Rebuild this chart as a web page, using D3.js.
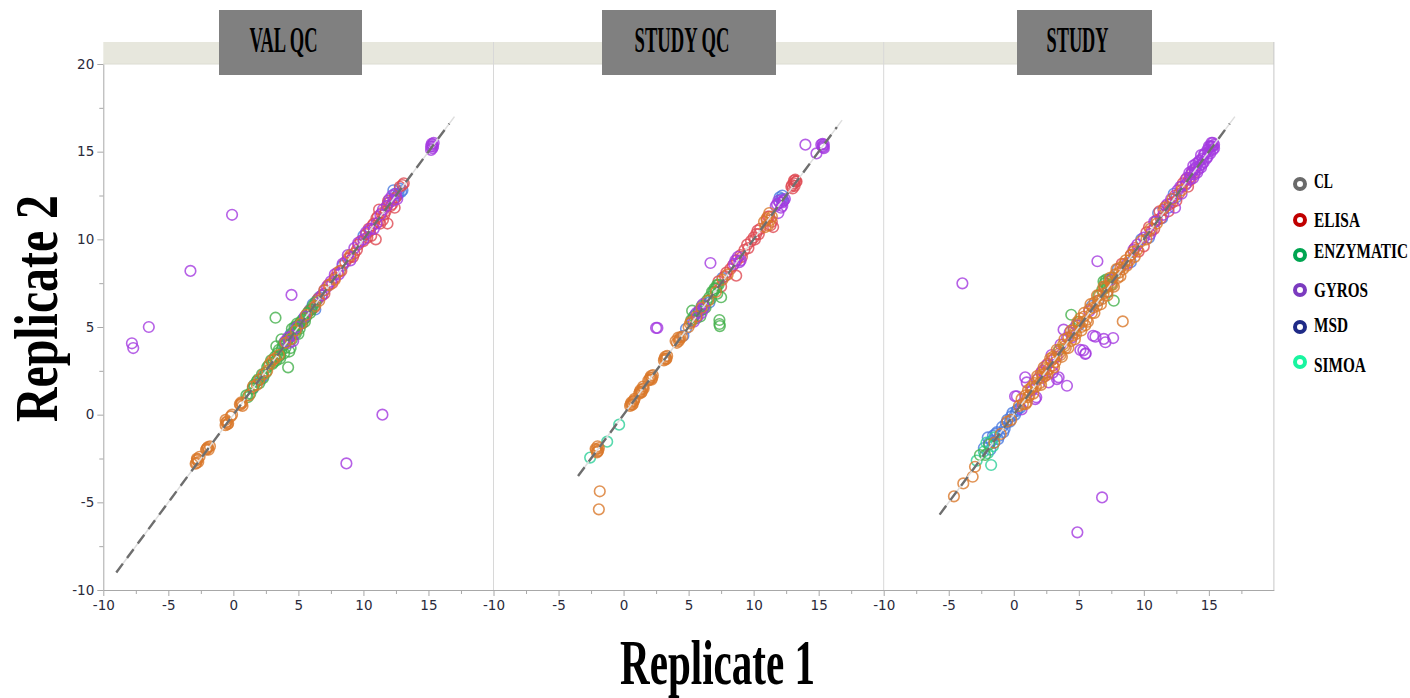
<!DOCTYPE html>
<html><head><meta charset="utf-8">
<script src="https://cdn.jsdelivr.net/npm/d3@7"></script>
<style>body{margin:0;background:#fff;} svg{display:block;}</style>
</head><body><svg id="c" width="1410" height="698"></svg>
<script>
// ---------------- DATA ----------------
const panels = ["VAL QC", "STUDY QC", "STUDY"];
const categories = ["CL", "ELISA", "ENZYMATIC", "GYROS", "MSD", "SIMOA"];
const xTickLabels = [-10, -5, 0, 5, 10, 15];
const yTickLabels = [-10, -5, 0, 5, 10, 15, 20];
const identityStart = [-9.0, -3.5, -5.7];
const identityEnd = [16.6, 16.4, 16.6];

// [Replicate 1, Replicate 2] pairs, per panel, per category
const valQC = {
  CL: [[-2.9,-2.8],[-2.8,-2.6],[-2.7,-2.7],[-2.8,-2.5],[-2.6,-2.4],[-2.0,-1.9],[-1.9,-2.0],[-2.1,-2.0],[-1.8,-1.8],[-0.6,-0.6],[-0.5,-0.4],[-0.4,-0.5],[-0.6,-0.3],[-0.2,-0.1],[-0.1,0.0],[0.5,0.6],[0.6,0.7],[0.7,0.5],[1.2,1.1],[1.5,1.6],[2.0,2.0],[2.6,2.5],[3.0,3.1],[3.5,3.4],[4.0,4.1],[4.8,4.8],[5.6,5.7],[6.3,6.2],[7.0,7.1],[7.8,7.7],
       [-2.85,-2.75],[-2.75,-2.55],[-1.95,-1.85],[-2.05,-1.95],[-0.55,-0.45],[-0.45,-0.55],[0.55,0.55],[0.65,0.65],[2.3,2.3],[3.2,3.2],[4.4,4.3],[5.2,5.2],[6.6,6.5],[7.4,7.4],[8.2,8.2],[9.0,9.1],[1.8,1.7],[2.8,2.9]],
  ELISA: [[5.0,5.1],[5.3,5.2],[5.8,5.9],[6.2,6.1],[6.5,6.6],[7.0,6.9],[7.3,7.4],[7.8,7.8],[8.0,8.1],[8.3,8.2],[8.6,8.7],[9.0,9.0],[9.3,9.2],[9.6,9.7],[10.0,9.9],[10.2,10.3],[10.5,10.5],[10.8,10.9],[11.0,11.2],[11.2,11.0],[11.4,11.5],[11.6,11.4],[11.8,11.9],[12.0,12.1],[12.2,12.0],[12.4,12.3],[10.95,10.0],[11.85,10.9],[12.4,11.8],[11.2,11.7],[13.1,13.2],[13.0,13.1],[11.5,11.1],[10.6,10.2],
       [5.5,5.5],[6.0,6.0],[6.8,6.8],[7.6,7.5],[8.8,8.9],[9.5,9.4],[9.8,9.9],[10.3,10.1],[10.7,10.8],[11.1,11.3],[11.3,10.9],[11.7,11.6],[12.1,11.9],[12.5,12.4],[12.8,13.0],[9.2,9.0],[10.4,10.6],[11.9,12.2]],
  ENZYMATIC: [[1.0,1.1],[1.3,1.2],[1.6,1.7],[1.8,1.9],[2.0,1.8],[2.2,2.3],[2.5,2.4],[2.7,2.8],[3.0,2.9],[3.2,3.3],[3.4,3.5],[3.6,3.4],[3.8,3.9],[4.0,3.8],[4.2,4.3],[4.4,4.5],[4.6,4.7],[4.8,4.6],[5.0,5.1],[5.2,5.3],[5.4,5.4],[5.7,5.8],[6.0,6.0],[6.3,6.4],[3.7,4.3],[3.5,3.7],[4.5,4.9],[4.9,5.2],[4.3,3.6],[3.9,3.5],[3.24,5.53],[4.21,2.7],[4.7,5.0],[5.1,4.9],[3.3,3.9],
       [1.1,1.0],[1.5,1.5],[1.9,2.0],[2.3,2.1],[2.6,2.7],[2.9,3.1],[3.1,3.0],[3.3,3.1],[3.5,3.3],[3.7,3.7],[3.9,4.1],[4.1,4.2],[4.3,4.4],[4.5,4.3],[4.7,4.6],[4.9,4.9],[5.1,5.2],[5.3,5.4],[5.5,5.3],[5.6,5.6],[5.9,5.8],[6.1,6.2],[3.6,3.2],[4.4,3.8],[5.0,4.6]],
  GYROS: [[4.0,4.2],[4.3,4.1],[4.5,4.5],[5.5,5.6],[7.2,7.3],[7.5,7.6],[8.8,9.1],[9.0,8.8],[9.3,9.5],[10.5,10.6],[10.8,10.6],[11.5,11.7],[11.8,11.9],[12.0,12.3],[12.3,12.2],[12.5,12.6],[15.3,15.4],[15.2,15.3],[15.4,15.5],[15.3,15.2],[15.2,15.1],[-0.1,11.4],[-3.3,8.2],[-6.5,5.0],[-7.8,4.07],[-7.7,3.8],[4.47,6.83],[11.46,0.0],[8.69,-2.78],
       [4.2,4.4],[4.6,4.2],[4.9,5.0],[7.8,8.0],[8.1,8.0],[8.4,8.6],[9.6,9.8],[10.0,10.0],[10.2,10.4],[11.0,10.9],[11.3,11.4],[12.2,12.5],[12.6,12.3],[15.35,15.3],[15.25,15.45],[6.8,6.8],[7.0,7.1]],
  MSD: [[1.5,1.5],[2.3,2.2],[4.8,5.0],[5.9,6.0],[6.1,6.3],[6.3,6.0],[6.6,6.7],[8.4,8.5],[10.0,10.2],[11.9,12.1],[12.6,12.5],[12.8,12.9],[12.7,12.6],[12.3,12.8],
       [2.1,2.0],[3.9,4.0],[4.4,4.6],[5.4,5.5],[6.4,6.5],[12.4,12.6],[12.9,12.7],[13.0,12.8]],
  SIMOA: []
};
const studyQC = {
  CL: [[-2.1,-2.0],[-2.0,-2.1],[-1.9,-1.9],[-2.0,-1.8],[-1.83,-4.37],[-1.9,-5.4],[0.5,0.5],[0.6,0.7],[0.7,0.6],[0.8,0.8],[1.2,1.2],[1.3,1.4],[1.4,1.3],[1.5,1.6],[2.0,2.0],[2.1,2.2],[2.2,2.1],[3.1,3.1],[3.2,3.3],[3.3,3.2],[4.1,4.1],[4.3,4.3],[4.2,4.4],[5.0,5.0],[5.2,5.3],[6.0,6.1],[7.1,7.0],[8.0,8.0],[11.0,11.2],[11.3,11.1],[11.1,10.8],
       [-2.15,-1.95],[-1.95,-2.05],[-2.05,-2.15],[0.55,0.6],[0.65,0.55],[0.75,0.75],[0.85,0.9],[1.25,1.3],[1.35,1.25],[1.45,1.45],[1.55,1.5],[1.9,1.95],[2.05,2.1],[2.15,2.0],[2.25,2.25],[3.15,3.2],[3.25,3.15],[3.35,3.35],[4.0,4.2],[4.25,4.2],[4.35,4.4],[4.5,4.45],[5.1,5.2],[5.6,5.6],[6.5,6.5],[7.6,7.7],[10.8,11.0],[11.2,11.5],[11.4,11.3],[10.9,10.7]],
  ELISA: [[7.8,7.9],[8.2,8.3],[8.66,7.93],[9.0,9.1],[9.3,9.4],[9.6,9.5],[10.0,10.1],[10.2,10.3],[10.4,10.3],[11.0,11.1],[11.2,11.3],[11.4,11.0],[11.5,10.7],[12.9,13.0],[13.1,13.2],[13.2,13.4],[13.0,12.9],[13.3,13.3],[7.5,7.3],
       [8.4,8.5],[8.7,8.8],[9.1,9.0],[9.5,9.7],[9.8,9.9],[10.1,10.0],[10.5,10.6],[10.3,10.5],[11.1,11.3],[11.3,10.8],[12.95,13.1],[13.15,13.05],[13.25,13.3],[13.1,13.35],[7.3,7.6],[7.9,8.1]],
  ENZYMATIC: [[5.27,5.93],[5.6,5.5],[6.0,6.2],[6.3,6.1],[6.6,6.7],[6.9,7.0],[7.1,7.2],[7.3,7.4],[7.2,6.9],[7.37,5.17],[7.37,5.4],[7.4,5.05],[7.5,6.7],[5.9,5.6],
       [5.4,5.6],[5.8,5.9],[6.1,6.0],[6.4,6.5],[6.7,6.6],[7.0,7.2],[7.2,7.4],[6.8,7.0],[5.2,5.4]],
  GYROS: [[2.5,4.95],[2.6,4.95],[5.7,5.6],[5.9,6.0],[6.1,6.3],[8.5,8.6],[8.8,9.0],[9.0,8.8],[11.8,12.0],[12.0,12.1],[12.2,11.9],[12.3,12.2],[11.9,11.5],[6.68,8.65],[13.98,15.4],[14.83,14.9],[15.3,15.3],[15.4,15.4],[15.2,15.4],[15.4,15.2],
       [11.9,12.2],[12.1,11.8],[12.2,12.1],[11.7,11.9],[12.4,12.3],[5.6,5.8],[6.0,5.8],[8.6,8.8],[8.9,8.7],[15.3,15.45],[15.35,15.25],[6.2,6.1],[5.4,5.3]],
  MSD: [[4.6,4.5],[5.5,5.7],[5.8,5.9],[7.6,7.8],[12.2,12.3],[12.3,12.2],[12.0,12.4],
       [4.8,4.9],[5.3,5.4],[6.2,6.2],[6.6,6.4],[12.1,12.3],[12.2,12.5]],
  SIMOA: [[-2.57,-2.45],[-1.26,-1.54],[-0.34,-0.57]]
};
const study = {
  CL: [[-4.6,-4.66],[-3.88,-3.92],[-3.16,-3.54],[-2.98,-2.97],[8.38,5.32],[0.4,0.5],[0.7,0.6],[0.9,1.1],[1.2,1.1],[1.4,1.6],[1.7,1.6],[1.9,2.1],[2.2,2.1],[2.4,2.6],[2.7,2.6],[2.9,3.1],[3.2,3.0],[3.4,3.6],[3.6,3.4],[3.8,4.0],[4.0,3.8],[4.2,4.4],[4.4,4.2],[4.6,4.8],[4.8,4.6],[5.0,5.2],[5.2,5.0],[5.4,5.6],[5.6,5.4],[5.8,6.0],[6.0,5.8],[6.2,6.4],[6.4,6.2],[6.6,6.8],[6.8,6.6],[7.0,7.2],[7.2,7.0],[7.4,7.6],[7.6,7.4],[7.8,8.0],[8.0,7.8],[8.2,8.4],[8.4,8.3],[8.6,8.8],[8.9,8.8],[9.2,9.3],[9.5,9.4],[1.0,0.7],[1.3,1.5],[2.0,1.8],[3.0,3.3],[5.1,5.5],[5.5,5.1],[6.1,6.1],[6.9,6.9],[4.5,4.5],[3.5,3.5],[2.5,2.4],[1.6,1.8],[-0.2,-0.3],[12.2,12.3],[12.9,12.8],[10.2,10.0],
       [0.6,0.9],[0.9,0.6],[1.1,1.4],[1.5,1.2],[1.8,2.2],[2.1,1.7],[2.3,2.7],[2.6,2.3],[2.8,3.2],[3.1,2.7],[3.3,3.7],[3.7,3.3],[3.9,4.3],[4.2,3.8],[4.4,4.8],[4.7,4.3],[4.9,5.3],[5.2,4.8],[5.4,5.8],[5.7,5.3],[5.9,6.3],[6.2,5.8],[6.4,6.8],[6.7,6.3],[6.9,7.3],[7.2,6.8],[7.4,7.8],[7.7,7.3],[7.9,8.3],[8.2,7.9],[8.5,8.6],[8.7,8.5],[9.0,9.1],[9.3,9.0],[9.8,9.9],[10.5,10.6],[11.0,10.9],[11.6,11.8],[3.9,3.9],[5.3,5.3],[6.5,6.5],[7.5,7.5],[8.1,8.1],[2.2,2.3],[4.7,4.7],[1.1,1.0],[-0.5,-0.4],[-1.0,-1.1],[-1.5,-1.6]],
  ELISA: [[2.1,2.4],[2.4,2.2],[3.0,2.8],[7.0,7.3],[8.3,8.6],[9.3,9.5],[9.6,9.3],[10.2,10.4],[10.6,10.5],[11.0,11.1],[11.3,11.2],[11.7,11.9],[12.0,12.0],[12.4,12.5],[12.7,12.6],[13.0,13.2],[13.3,13.2],[13.5,13.5],[13.7,13.8],[13.4,13.0],[10.0,9.6],[11.2,11.6],[9.0,9.1],
       [10.8,10.6],[11.5,11.7],[12.2,12.1],[12.9,13.0],[13.2,13.4],[13.6,13.4],[13.9,13.8],[12.5,12.2],[11.9,11.6],[10.4,10.7],[3.1,3.2],[2.6,2.9]],
  ENZYMATIC: [[-2.6,-2.3],[-2.2,-2.3],[-1.9,-1.7],[4.42,5.7],[6.5,6.8],[6.8,7.1],[7.0,7.5],[7.2,7.3],[7.3,7.7],[7.5,7.4],[7.69,6.5],[7.6,7.8],[7.1,7.7],[4.6,4.9],[5.0,5.3],[3.5,3.7],[6.9,7.6]],
  GYROS: [[-3.95,7.49],[6.79,-4.72],[4.89,-6.71],[6.43,8.75],[0.88,2.13],[0.1,1.05],[0.24,1.05],[1.65,0.89],[1.73,0.99],[4.09,1.65],[3.45,2.13],[3.32,2.03],[2.68,1.84],[1.0,1.84],[5.5,3.46],[5.35,3.67],[5.12,3.69],[5.53,3.5],[7.64,4.37],[6.92,4.32],[6.28,4.45],[6.1,4.5],[7.05,4.13],[3.83,4.85],[4.1,4.4],[4.48,4.41],[1.4,1.4],[1.8,2.0],[2.2,2.5],[3.0,2.4],[3.6,4.0],[4.3,4.7],[0.6,0.3],[2.9,3.4],[9.5,9.7],[10.0,10.1],[10.8,11.0],[11.5,11.4],[12.1,12.3],[12.6,12.8],[13.2,13.1],[13.6,13.7],[13.7,13.9],[13.9,14.0],[14.0,14.3],[14.2,14.0],[14.3,14.5],[14.5,14.3],[14.6,14.8],[14.8,14.6],[14.9,15.1],[15.1,14.9],[15.2,15.3],[15.3,15.1],[15.4,15.4],[15.2,15.5],[14.4,14.8],[14.1,13.8],[13.8,14.2],[15.0,15.3],[12.4,11.8],
       [13.5,13.8],[13.8,13.5],[14.0,14.1],[14.2,14.4],[14.4,14.1],[14.5,14.6],[14.7,14.9],[14.9,14.7],[15.0,15.0],[15.1,15.3],[15.3,15.3],[15.4,15.2],[15.3,15.5],[14.6,14.4],[14.3,14.2],[13.9,13.7],[13.5,13.4],[13.3,13.5],[12.8,13.0],[12.9,12.6],[11.8,12.0],[10.5,10.3],[9.2,9.4],[8.7,8.6],[7.5,7.7],[5.8,5.9],[4.8,5.1],[3.3,3.3],[2.5,2.8]],
  MSD: [[-2.0,-1.3],[-1.7,-1.5],[-1.5,-1.6],[-1.3,-1.0],[-1.1,-1.2],[-0.9,-0.7],[-0.7,-0.8],[-0.5,-0.3],[-0.3,-0.4],[-0.1,0.1],[0.1,0.0],[0.3,0.3],[-1.8,-2.0],[-2.3,-1.9],[6.5,6.5],[8.0,8.3],[9.8,10.0],[10.4,10.1],[11.9,11.8],[12.5,12.4],[11.1,11.5],[9.0,8.7],
       [-1.9,-1.6],[-1.6,-1.2],[-1.2,-1.4],[-0.8,-1.0],[-0.6,-0.5],[-0.2,-0.1],[0.2,0.2],[0.5,0.4],[-1.4,-1.1],[10.9,11.0],[11.4,11.2],[12.3,12.6],[7.2,7.0],[5.0,5.1],[6.0,6.2]],
  SIMOA: [[-1.74,-2.87],[-2.85,-2.62],[-2.0,-2.2],[-2.3,-2.1],[-1.6,-1.8],[-2.1,-1.6],[-1.5,-1.3]]
};
const panelData = [valQC, studyQC, study];

// ---------------- STYLE / LAYOUT ----------------
const pointColors = {CL:"#d9782a", ELISA:"#de4a52", ENZYMATIC:"#43b04b", GYROS:"#a43ae0", MSD:"#4a7ae0", SIMOA:"#2dcf98"};
const legendColors = {CL:"#6a6a6a", ELISA:"#c00000", ENZYMATIC:"#00a551", GYROS:"#7b3bbf", MSD:"#1f2a87", SIMOA:"#19f5a0"};
const drawOrder = ["MSD","SIMOA","ELISA","ENZYMATIC","GYROS","CL"];
const headerBoxes = [[219,362],[602,776],[1017,1152]];
const headerTextW = [68, 95, 62];
const legendY = [184, 220, 255, 290, 327, 362];
const legendTextDy = [4, 7, 3, 7, 5, 10];
const legendTextW = [19, 46, 94, 54, 34, 52];

const svg = d3.select("#c");
const plotL = 103.3, panelW = 390.2, plotT = 64, plotB = 590, bandT = 42;
const y = d3.scaleLinear().domain([-10, 20]).range([plotB, plotT]);
const xs = panels.map((p, i) => d3.scaleLinear().domain([-10, 20]).range([plotL + i*panelW, plotL + (i+1)*panelW]));
const serif = "'Liberation Serif', 'DejaVu Serif', serif";

function fit(sel, w) {
  const len = sel.node().getComputedTextLength();
  return len > 0 ? w / len : 1;
}

// band
svg.append("rect").attr("x", plotL).attr("y", bandT).attr("width", 3*panelW).attr("height", plotT - bandT)
  .attr("fill", "#e7e7dd");
svg.append("line").attr("x1", plotL).attr("x2", plotL + 3*panelW).attr("y1", plotT).attr("y2", plotT)
  .attr("stroke", "#dcdcd2");
[1, 2].forEach(i => {
  const xx = xs[i].range()[0];
  svg.append("line").attr("x1", xx).attr("x2", xx).attr("y1", bandT).attr("y2", plotB)
    .attr("stroke", "#d8d8d8").attr("stroke-width", 1);
});
svg.append("line").attr("x1", plotL + 3*panelW).attr("x2", plotL + 3*panelW).attr("y1", bandT).attr("y2", plotB)
  .attr("stroke", "#c8c8c8");

// points
panels.forEach((p, i) => {
  const g = svg.append("g");
  drawOrder.forEach(cat => {
    g.selectAll(null).data(panelData[i][cat]).enter().append("circle")
      .attr("cx", d => xs[i](d[0])).attr("cy", d => y(d[1])).attr("r", 5.3)
      .attr("fill", "none").attr("stroke", pointColors[cat]).attr("stroke-width", 1.6)
      .attr("stroke-opacity", 0.8);
  });
  g.append("line").attr("x1", xs[i](identityStart[i])).attr("y1", y(identityStart[i]))
    .attr("x2", xs[i](identityEnd[i] + 0.4)).attr("y2", y(identityEnd[i] + 0.4))
    .attr("stroke", "#dedede").attr("stroke-width", 1.5);
  g.append("line").attr("x1", xs[i](identityStart[i])).attr("y1", y(identityStart[i]))
    .attr("x2", xs[i](identityEnd[i])).attr("y2", y(identityEnd[i]))
    .attr("stroke", "#6e6e6e").attr("stroke-width", 2.4).attr("stroke-dasharray", "11,7");
});

// axes
function styleAxis(g) {
  g.attr("font-size", null);
  g.selectAll("path.domain").attr("stroke", "#a8a8a8");
  g.selectAll(".tick line").attr("stroke", "#a8a8a8");
  g.selectAll(".tick text").attr("fill", "#2a2a3a").attr("font-family", "'DejaVu Sans', sans-serif")
    .attr("font-size", 13.5);
}
const yMinor = yTickLabels.slice(0, -1).map(v => v + 2.5);
const ya = svg.append("g").attr("transform", `translate(${plotL},0)`)
  .call(d3.axisLeft(y).tickValues(yTickLabels).tickSize(6).tickSizeOuter(0).tickPadding(3).tickFormat(d => String(d)));
styleAxis(ya);
const yam = svg.append("g").attr("transform", `translate(${plotL},0)`)
  .call(d3.axisLeft(y).tickValues(yMinor).tickSize(4).tickFormat(""));
yam.select("path.domain").remove();
styleAxis(yam);

const xMinor = xTickLabels.map(v => v + 2.5);
panels.forEach((p, i) => {
  const xa = svg.append("g").attr("transform", `translate(0,${plotB})`)
    .call(d3.axisBottom(xs[i]).tickValues(xTickLabels).tickSize(6).tickSizeOuter(0).tickPadding(4).tickFormat(d => String(d)));
  styleAxis(xa);
  const xm = svg.append("g").attr("transform", `translate(0,${plotB})`)
    .call(d3.axisBottom(xs[i]).tickValues(xMinor).tickSize(4).tickFormat(""));
  xm.select("path.domain").remove();
  styleAxis(xm);
});

// header boxes
panels.forEach((p, i) => {
  const [a, b] = headerBoxes[i];
  svg.append("rect").attr("x", a).attr("y", 10).attr("width", b - a).attr("height", 65).attr("fill", "#808080");
  const cx = (a + b) / 2 - 7;
  const t = svg.append("text").text(p).attr("text-anchor", "middle")
    .style("font-family", serif).style("font-weight", "bold").style("font-size", "35px").attr("fill", "#000");
  const s = fit(t, headerTextW[i]);
  t.attr("transform", `translate(${cx},52) scale(${s},1)`);
});

// axis titles
const t1 = svg.append("text").text("Replicate 1").attr("text-anchor", "middle")
  .style("font-family", serif).style("font-weight", "bold").style("font-size", "64px").attr("fill", "#000");
t1.attr("transform", `translate(717.5,684) scale(${fit(t1, 195)},1)`);
const t2 = svg.append("text").text("Replicate 2").attr("text-anchor", "middle")
  .style("font-family", serif).style("font-weight", "bold").style("font-size", "62px").attr("fill", "#000");
t2.attr("transform", `translate(57,308.5) rotate(-90) scale(${fit(t2, 227)},1)`);

// legend
categories.forEach((c, i) => {
  svg.append("circle").attr("cx", 1300).attr("cy", legendY[i]).attr("r", 5)
    .attr("fill", "#fff").attr("stroke", legendColors[c]).attr("stroke-width", 4);
  const t = svg.append("text").text(c).attr("text-anchor", "start")
    .style("font-family", serif).style("font-weight", "bold").style("font-size", "22px").attr("fill", "#000");
  t.attr("transform", `translate(1314,${legendY[i] + legendTextDy[i]}) scale(${fit(t, legendTextW[i])},1)`);
});
</script></body></html>
